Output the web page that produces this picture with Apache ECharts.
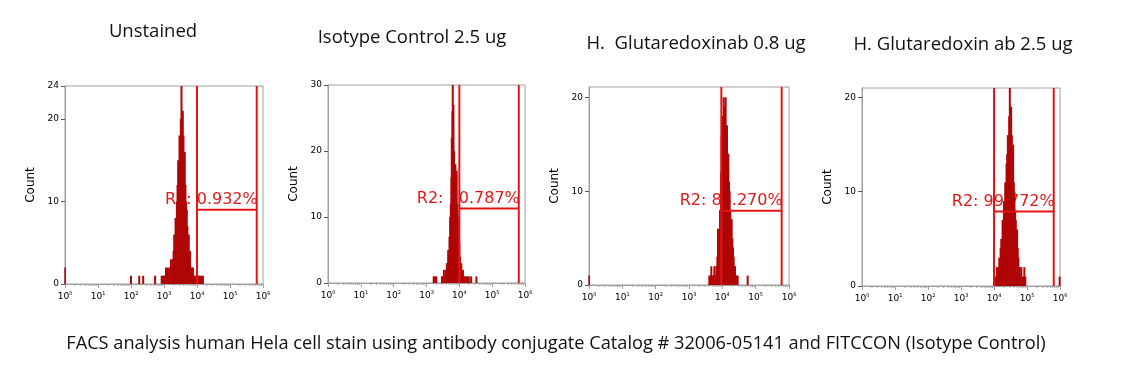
<!DOCTYPE html>
<html><head><meta charset="utf-8">
<script src="https://cdn.jsdelivr.net/npm/echarts@6/dist/echarts.min.js"></script>
<style>html,body{margin:0;padding:0;background:#fff}#c{width:1139px;height:378px}</style>
</head><body><div id="c"></div>
<script>
// ---------- text ----------
const panelTitles = ["Unstained", "Isotype Control 2.5 ug", "H.  Glutaredoxinab 0.8 ug", "H. Glutaredoxin ab 2.5 ug"];
const captionText = "FACS analysis human Hela cell stain using antibody conjugate Catalog # 32006-05141 and FITCCON (Isotype Control)";
const yAxisName = "Count";
const gateLabels = ["R2: 0.932%", "R2: 10.787%", "R2: 84.270%", "R2: 99.772%"];

// ---------- axes ----------
const decadeTicks = [0, 1, 2, 3, 4, 5, 6];          // exponents of 10 on the fluorescence axis
const yMaxes = [24, 30, 21.1, 21];
const yTickValues = [[0, 10, 20, 24], [0, 10, 20, 30], [0, 10, 20], [0, 10, 20]];

// ---------- gates (log10 fluorescence, count level) ----------
const gateLow = [4.0, 4.0, 3.97, 4.0];
const gateHigh = [5.81, 5.81, 5.78, 5.81];
const gateLevel = [9.0, 11.3, 7.9, 7.9];

// ---------- histograms: log10 fluorescence and event count ----------
const unstainedLog = [0, 2.0, 2.25, 2.37, 2.73,
  2.93, 2.97, 3.00, 3.03, 3.06, 3.09, 3.12, 3.15, 3.18, 3.21, 3.24, 3.27, 3.29, 3.31, 3.33, 3.35, 3.37, 3.39, 3.41, 3.43,
  3.45, 3.47, 3.49, 3.51, 3.53, 3.55, 3.57, 3.59, 3.61, 3.63, 3.65, 3.67, 3.69, 3.71, 3.73, 3.75, 3.77, 3.79, 3.81, 3.83,
  3.85, 3.88, 3.91, 3.94, 3.97, 4.00, 4.03, 4.06, 4.10, 4.14, 4.18];
const unstainedCount = [2, 1, 1, 1, 1,
  1, 1, 1, 1, 2, 1, 2, 1, 2, 3, 2, 3, 4, 6, 5, 8, 7, 10, 12, 15,
  14, 18, 16, 20, 24, 17, 21, 18, 15, 16, 12, 10, 9, 7, 5, 6, 3, 4, 2, 2,
  1, 2, 1, 1, 1, 2, 1, 1, 1, 1, 1];

const isotypeLog = [3.22, 3.26, 3.30,
  3.47, 3.50, 3.53, 3.56, 3.59, 3.62, 3.64, 3.66, 3.68, 3.70, 3.72, 3.74, 3.76, 3.77, 3.79, 3.80, 3.81, 3.82,
  3.84, 3.86, 3.88, 3.90, 3.92, 3.94, 3.96, 3.98, 4.00, 4.02, 4.04, 4.06, 4.08, 4.11, 4.14, 4.17, 4.21, 4.25,
  4.29, 4.36, 4.52];
const isotypeCount = [1, 1, 1,
  1, 1, 2, 1, 2, 3, 2, 5, 4, 7, 10, 12, 16, 22, 26, 30, 24, 27,
  20, 17, 18, 16, 17, 12, 10, 8, 6, 4, 2, 3, 1, 2, 1, 1, 1, 1,
  1, 1, 1];

const glut08Log = [0,
  3.61, 3.64, 3.67, 3.70, 3.73, 3.76, 3.79, 3.82, 3.85, 3.87, 3.90, 3.93, 3.96, 3.98, 4.00, 4.02, 4.04, 4.06,
  4.08, 4.10, 4.12, 4.14, 4.16, 4.18, 4.20, 4.22, 4.24, 4.26, 4.28, 4.30, 4.32, 4.34, 4.36, 4.38, 4.40, 4.43,
  4.46, 4.76];
const glut08Count = [1,
  1, 1, 2, 1, 1, 2, 1, 2, 3, 6, 5, 8, 12, 16, 18, 15, 20, 19,
  17, 20, 16, 17, 13, 14, 11, 10, 8, 7, 7, 5, 4, 3, 2, 2, 1, 1,
  1, 1];

const glut25Log = [4.03, 4.06, 4.09, 4.12, 4.14, 4.16, 4.18, 4.20, 4.22, 4.24, 4.26, 4.28, 4.30, 4.32, 4.34, 4.36,
  4.38, 4.40, 4.42, 4.44, 4.46, 4.48, 4.50, 4.52, 4.54, 4.56, 4.58, 4.60, 4.62, 4.64, 4.66, 4.68, 4.70, 4.72,
  4.74, 4.76, 4.78, 4.80, 4.83, 4.86, 4.89, 4.92, 4.95, 5.99];
const glut25Count = [1, 1, 2, 1, 2, 3, 2, 4, 5, 4, 7, 6, 9, 8, 11, 10,
  13, 14, 16, 15, 18, 21, 17, 19, 16, 14, 15, 11, 10, 8, 7, 5, 6, 4,
  3, 2, 2, 1, 2, 1, 1, 2, 1, 1];

const histLogs = [unstainedLog, isotypeLog, glut08Log, glut25Log];
const histCounts = [unstainedCount, isotypeCount, glut08Count, glut25Count];

// ---------- layout ----------
const gridBoxes = [
  { left: 65, top: 86, width: 198, height: 198 },
  { left: 328, top: 85, width: 197, height: 198 },
  { left: 589, top: 87, width: 200, height: 198 },
  { left: 862, top: 88, width: 198, height: 198 }
];
const titlePos = [[153, 32], [412, 38], [696, 44], [963, 45]];
const captionPos = [556, 344];

const histColor = '#b00606';
const gateColor = '#e41414';
const axisGray = '#a0a0a0';
const tickFont = 'DejaVu Sans';

// minor log ticks (2..9 within each decade)
const minorTicks = [];
for (let d = 0; d < 6; d++) for (let k = 2; k <= 9; k++) minorTicks.push([d + Math.log10(k), 0]);

const grids = [], xAxes = [], yAxes = [], series = [], graphics = [];
for (let i = 0; i < 4; i++) {
  grids.push(Object.assign({ show: true, borderColor: axisGray, borderWidth: 1, backgroundColor: '#fff' }, gridBoxes[i]));
  xAxes.push({
    type: 'value', gridIndex: i, min: 0, max: 6, interval: 1,
    axisLine: { show: true, lineStyle: { color: axisGray } },
    axisTick: { show: true, length: 4, lineStyle: { color: axisGray } },
    splitLine: { show: false },
    axisLabel: {
      margin: 7, color: '#000',
      formatter: v => '{b|10}{s|' + v + '}',
      rich: {
        b: { fontSize: 9, fontFamily: tickFont, color: '#000' },
        s: { fontSize: 5, fontFamily: tickFont, color: '#000', padding: [0, 0, 6, 0] }
      }
    }
  });
  yAxes.push({
    type: 'value', gridIndex: i, min: 0, max: yMaxes[i],
    name: yAxisName, nameLocation: 'middle', nameGap: 28,
    nameTextStyle: { fontSize: 12, fontFamily: 'DejaVu Sans', color: '#000' },
    axisLine: { show: true, lineStyle: { color: axisGray } },
    axisTick: { show: true, length: 4, lineStyle: { color: '#555' }, customValues: yTickValues[i] },
    splitLine: { show: false },
    axisLabel: { fontSize: 9, fontFamily: tickFont, color: '#000', margin: 6, customValues: yTickValues[i] }
  });
  // gate percentage text (under histogram)
  series.push({
    type: 'custom', xAxisIndex: i, yAxisIndex: i, z: 1, silent: true,
    data: [[gateHigh[i], gateLevel[i]]],
    renderItem: (params, api) => {
      const p = api.coord([api.value(0), api.value(1)]);
      return { type: 'text', x: p[0] + 1, y: p[1] - 10,
        style: { text: gateLabels[i], fill: '#e01a1a', font: '16px "DejaVu Sans"', align: 'right', verticalAlign: 'middle' } };
    }
  });
  // histogram
  series.push({
    type: 'bar', xAxisIndex: i, yAxisIndex: i, z: 2, barWidth: 2, barGap: '-100%',
    itemStyle: { color: histColor },
    data: histLogs[i].map((x, j) => [x, histCounts[i][j]])
  });
  // gate lines
  series.push({
    type: 'custom', xAxisIndex: i, yAxisIndex: i, z: 3, silent: true,
    data: [[gateLow[i], gateHigh[i], gateLevel[i]]],
    renderItem: (params, api) => {
      const cs = params.coordSys;
      const lo = api.coord([api.value(0), api.value(2)]);
      const hi = api.coord([api.value(1), api.value(2)]);
      const st = { stroke: gateColor, lineWidth: 2 };
      return { type: 'group', children: [
        { type: 'line', shape: { x1: lo[0], y1: cs.y, x2: lo[0], y2: cs.y + cs.height }, style: st },
        { type: 'line', shape: { x1: hi[0], y1: cs.y, x2: hi[0], y2: cs.y + cs.height }, style: st },
        { type: 'line', shape: { x1: lo[0], y1: lo[1], x2: hi[0], y2: hi[1] }, style: st }
      ] };
    }
  });
  // minor log ticks
  series.push({
    type: 'custom', xAxisIndex: i, yAxisIndex: i, z: 4, silent: true, clip: false,
    data: minorTicks,
    renderItem: (params, api) => {
      const p = api.coord([api.value(0), 0]);
      return { type: 'line', shape: { x1: p[0], y1: p[1], x2: p[0], y2: p[1] + 2 }, style: { stroke: axisGray, lineWidth: 1 } };
    }
  });
  graphics.push({ type: 'text', x: titlePos[i][0], y: titlePos[i][1],
    style: { text: panelTitles[i], font: '18.5px "Open Sans"', fill: '#111', align: 'center', verticalAlign: 'middle' } });
}
graphics.push({ type: 'text', x: captionPos[0], y: captionPos[1],
  style: { text: captionText, font: '18.2px "Open Sans"', fill: '#111', align: 'center', verticalAlign: 'middle' } });

const chart = echarts.init(document.getElementById('c'), null, { renderer: 'canvas' });
chart.setOption({
  animation: false,
  backgroundColor: '#fff',
  grid: grids, xAxis: xAxes, yAxis: yAxes, series: series, graphic: graphics
});
</script></body></html>
